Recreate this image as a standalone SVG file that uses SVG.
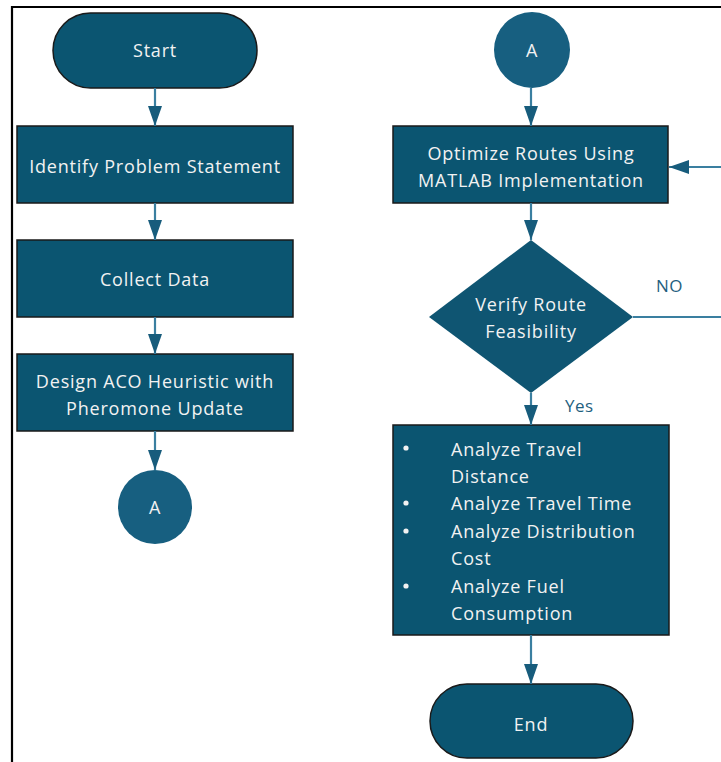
<svg xmlns="http://www.w3.org/2000/svg" width="721" height="762" viewBox="0 0 721 762">
<defs>
<marker id="ah" viewBox="0 0 20 14" refX="20" refY="7" markerWidth="20" markerHeight="14" markerUnits="userSpaceOnUse" orient="auto">
<path d="M0,0 L20,7 L0,14 Z" fill="#175c7c"/>
</marker>
<style>
.n{fill:#0b5571;stroke:#1a1a1a;stroke-width:1.5}
.c{fill:#175f80}
.t{font-family:"Open Sans","Noto Sans",sans-serif;font-size:18px;letter-spacing:0.8px;fill:#f2f2f2;text-anchor:middle}
.tl{font-family:"Open Sans","Noto Sans",sans-serif;font-size:18px;letter-spacing:0.8px;fill:#f2f2f2}
.lb{font-family:"Open Sans","Noto Sans",sans-serif;font-size:17px;letter-spacing:0.5px;fill:#1f5f7f}
.e{stroke:#3a7fa0;stroke-width:2.2;fill:none}
</style>
</defs>
<rect width="721" height="762" fill="#ffffff"/>
<path d="M12,762 V7 H721" fill="none" stroke="#000" stroke-width="2.2"/>
<g id="start"><rect class="n" x="53" y="13" width="204" height="75" rx="37.5"/><text class="t" x="155" y="57">Start</text></g>
<g id="identify"><rect class="n" x="17" y="126" width="276" height="77"/><text class="t" x="155" y="173">Identify Problem Statement</text></g>
<g id="collect"><rect class="n" x="17" y="240" width="276" height="77"/><text class="t" x="155" y="286">Collect Data</text></g>
<g id="design"><rect class="n" x="17" y="354" width="276" height="77"/><text class="t" x="155" y="388">Design ACO Heuristic with</text><text class="t" x="155" y="415">Pheromone Update</text></g>
<g id="connA1"><circle class="c" cx="155" cy="507" r="37"/><text class="t" x="155" y="514">A</text></g>
<g id="connA2"><circle class="c" cx="532" cy="50" r="38"/><text class="t" x="532" y="57">A</text></g>
<g id="optimize"><rect class="n" x="393" y="126" width="275" height="77"/><text class="t" x="531" y="160">Optimize Routes Using</text><text class="t" x="531" y="187">MATLAB Implementation</text></g>
<g id="verify"><polygon class="n" points="531,240 633,317 531,393 429,317" style="stroke:none;fill:#0f5572"/><text class="t" x="531" y="311">Verify Route</text><text class="t" x="531" y="338">Feasibility</text></g>
<g id="analyze"><rect class="n" x="393" y="425" width="276" height="210"/>
<circle cx="406" cy="448" r="2.6" fill="#f2f2f2"/><circle cx="406" cy="503" r="2.6" fill="#f2f2f2"/><circle cx="406" cy="531" r="2.6" fill="#f2f2f2"/><circle cx="406" cy="586" r="2.6" fill="#f2f2f2"/>
<text class="tl" x="451" y="456">Analyze Travel</text>
<text class="tl" x="451" y="483">Distance</text>
<text class="tl" x="451" y="510">Analyze Travel Time</text>
<text class="tl" x="451" y="538">Analyze Distribution</text>
<text class="tl" x="451" y="565">Cost</text>
<text class="tl" x="451" y="593">Analyze Fuel</text>
<text class="tl" x="451" y="620">Consumption</text>
</g>
<g id="end"><rect class="n" x="430" y="684" width="203" height="74" rx="37"/><text class="t" x="531" y="731">End</text></g>
<g id="connectors">
<line class="e" x1="155" y1="88" x2="155" y2="126" marker-end="url(#ah)"/>
<line class="e" x1="155" y1="203" x2="155" y2="240" marker-end="url(#ah)"/>
<line class="e" x1="155" y1="317" x2="155" y2="354" marker-end="url(#ah)"/>
<line class="e" x1="155" y1="431" x2="155" y2="470" marker-end="url(#ah)"/>
<line class="e" x1="531" y1="88" x2="531" y2="126" marker-end="url(#ah)"/>
<line class="e" x1="531" y1="203" x2="531" y2="240" marker-end="url(#ah)"/>
<line class="e" x1="531" y1="393" x2="531" y2="425" marker-end="url(#ah)"/>
<line class="e" x1="531" y1="635" x2="531" y2="684" marker-end="url(#ah)"/>
<line class="e" x1="633" y1="317" x2="721" y2="317"/>
<line class="e" x1="721" y1="167" x2="669" y2="167" marker-end="url(#ah)"/>
<text class="lb" x="656" y="292">NO</text>
<text class="lb" x="565" y="412">Yes</text>
</g>
</svg>
